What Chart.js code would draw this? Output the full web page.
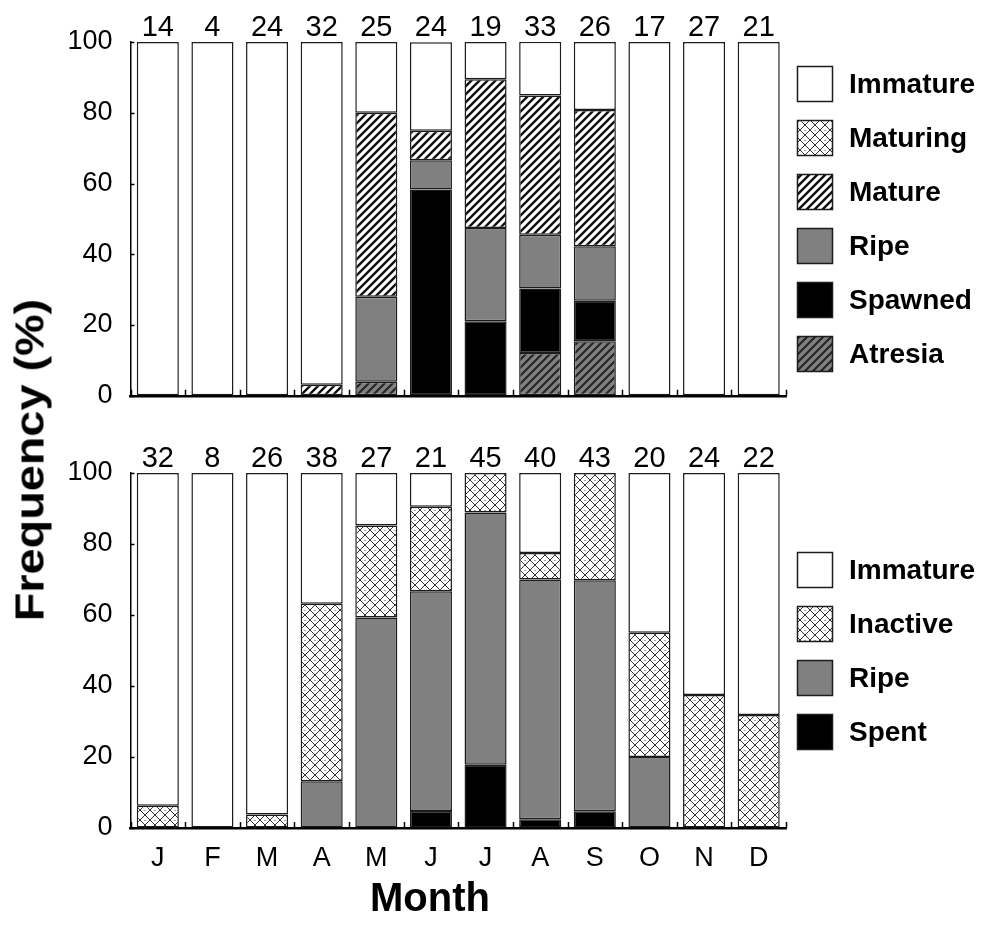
<!DOCTYPE html>
<html>
<head>
<meta charset="utf-8">
<script src="https://cdn.jsdelivr.net/npm/chart.js@4.4.1/dist/chart.umd.min.js"></script>
<style>
  html, body { margin: 0; padding: 0; background: #fff; }
  #page { position: relative; width: 998px; height: 936px; overflow: hidden; font-family: "Liberation Sans", Arial, sans-serif; }
  canvas { position: absolute; left: 0; }
  #topChart { top: 0; }
  #bottomChart { top: 430px; }
  .title { position: absolute; font-weight: bold; color: #000; white-space: nowrap; }
  #yTitle { left: 30px; top: 460px; font-size: 40px; transform: translate(-50%, -50%) rotate(-90deg) scaleX(1.17); }
  #xTitle { left: 430px; top: 897px; font-size: 40px; transform: translate(-50%, -50%); }
</style>
</head>
<body>
<div id="page">
  <canvas id="topChart" width="998" height="430"></canvas>
  <canvas id="bottomChart" width="998" height="506"></canvas>
  <div class="title" id="yTitle">Frequency (%)</div>
  <div class="title" id="xTitle">Month</div>
</div>
<script>
// ── Data ─────────────────────────────────────────────────────────────
const MONTHS = ['J', 'F', 'M', 'A', 'M', 'J', 'J', 'A', 'S', 'O', 'N', 'D'];
const Y_TICKS = [0, 20, 40, 60, 80, 100];

// upper panel: sample sizes and stage frequencies (%)
const TOP_N        = [14, 4, 24, 32, 25, 24, 19, 33, 26, 17, 27, 21];
const TOP_ATRESIA  = [0, 0, 0, 0, 4, 0, 0, 12.1, 15.4, 0, 0, 0];
const TOP_SPAWNED  = [0, 0, 0, 0, 0, 58.3, 21.1, 18.2, 11.5, 0, 0, 0];
const TOP_RIPE     = [0, 0, 0, 0, 24, 8.3, 26.3, 15.2, 15.4, 0, 0, 0];
const TOP_MATURE   = [0, 0, 0, 3.1, 52, 8.3, 42.1, 39.4, 38.5, 0, 0, 0];
const TOP_MATURING = [0, 0, 0, 0, 0, 0, 0, 0, 0, 0, 0, 0];
const TOP_IMMATURE = [100, 100, 100, 96.9, 20, 25, 10.5, 15.2, 19.2, 100, 100, 100];

// lower panel
const BOT_N        = [32, 8, 26, 38, 27, 21, 45, 40, 43, 20, 24, 22];
const BOT_SPENT    = [0, 0, 0, 0, 0, 4.8, 17.8, 2.5, 4.7, 0, 0, 0];
const BOT_RIPE     = [0, 0, 0, 13.2, 59.3, 61.9, 71.1, 67.5, 65.1, 20, 0, 0];
const BOT_INACTIVE = [6.3, 0, 3.8, 50, 25.9, 23.8, 11.1, 7.5, 30.2, 35, 37.5, 31.8];
const BOT_IMMATURE = [93.7, 100, 96.2, 36.8, 14.8, 9.5, 0, 22.5, 0, 45, 62.5, 68.2];

// ── Fills ────────────────────────────────────────────────────────────
const FONT = '"Liberation Sans", Arial, sans-serif';
const EDGE = '#1c1c1c';

function tile(size, paint) {
    const c = document.createElement('canvas');
    c.width = c.height = size;
    paint(c.getContext('2d'), size);
    return c.getContext('2d').createPattern(c, 'repeat');
}

function stripes(bg, fg, lw, size) {
    return tile(size, (g, s) => {
        g.fillStyle = bg;
        g.fillRect(0, 0, s, s);
        g.strokeStyle = fg;
        g.lineWidth = lw;
        g.beginPath();
        for (const o of [-s, 0, s]) {
            g.moveTo(o - 1, s + 1);
            g.lineTo(o + s + 1, -1);
        }
        g.stroke();
    });
}

const crossHatch = tile(10, (g, s) => {
    g.fillStyle = '#fff';
    g.fillRect(0, 0, s, s);
    g.strokeStyle = '#333';
    g.lineWidth = 1;
    g.beginPath();
    g.moveTo(0, 0); g.lineTo(s, s);
    g.moveTo(0, s); g.lineTo(s, 0);
    g.stroke();
    g.fillStyle = '#444';
    g.fillRect(s / 2 - 0.5, 0, 1, 1);
});

const FILL = {
    white: '#ffffff',
    cross: crossHatch,
    mature: stripes('#ffffff', '#111', 2.4, 8),
    gray: '#808080',
    black: '#000000',
    atresia: stripes('#808080', '#222', 2, 8)
};

function series(label, data, fill) {
    return {
        label, data,
        backgroundColor: fill,
        borderColor: EDGE,
        borderWidth: 1.5,
        borderSkipped: false,
        barPercentage: 0.77,
        categoryPercentage: 1
    };
}

// ── Plugins ──────────────────────────────────────────────────────────
// sample size printed above every bar
const countsPlugin = {
    id: 'counts',
    afterDatasetsDraw(chart, args, opts) {
        const { ctx, chartArea, scales: { x } } = chart;
        ctx.save();
        ctx.font = `29px ${FONT}`;
        ctx.fillStyle = '#000';
        ctx.textAlign = 'center';
        ctx.textBaseline = 'alphabetic';
        opts.values.forEach((n, i) => ctx.fillText(String(n), x.getPixelForValue(i), chartArea.top - 6));
        ctx.restore();
    }
};

// short tick marks pointing into the plot
const innerTicks = {
    id: 'innerTicks',
    afterDraw(chart) {
        const { ctx, chartArea, scales: { x, y } } = chart;
        ctx.save();
        ctx.strokeStyle = '#000';
        ctx.lineWidth = 1.5;
        ctx.beginPath();
        y.ticks.forEach(t => {
            const py = Math.round(y.getPixelForValue(t.value)) + 0.5;
            ctx.moveTo(chartArea.left, py);
            ctx.lineTo(chartArea.left + 4, py);
        });
        for (let i = 0; i <= MONTHS.length; i++) {
            const px = Math.round(x.getPixelForValue(i - 0.5)) + 0.5;
            ctx.moveTo(px, chartArea.bottom);
            ctx.lineTo(px, chartArea.bottom - 6);
        }
        ctx.stroke();
        ctx.restore();
    }
};

// stage key on the right, top stage first
const stageLegend = {
    id: 'stageLegend',
    afterDraw(chart, args, opts) {
        const { ctx } = chart;
        const sets = chart.data.datasets.slice().reverse();
        ctx.save();
        ctx.font = `bold 28px ${FONT}`;
        ctx.textBaseline = 'middle';
        sets.forEach((ds, i) => {
            const top = opts.top + i * 54;
            ctx.fillStyle = ds.backgroundColor;
            ctx.fillRect(797, top, 36, 36);
            ctx.strokeStyle = EDGE;
            ctx.lineWidth = 1.5;
            ctx.strokeRect(797.5, top + 0.5, 35, 35);
            ctx.fillStyle = '#000';
            ctx.fillText(ds.label, 849, top + 19);
        });
        ctx.restore();
    }
};

// ── Chart factory ────────────────────────────────────────────────────
function buildChart(id, datasets, counts, legendTop, opt) {
    return new Chart(document.getElementById(id), {
        type: 'bar',
        data: { labels: MONTHS, datasets },
        plugins: [countsPlugin, innerTicks, stageLegend],
        options: {
            responsive: false,
            animation: false,
            layout: { padding: { left: 0, top: opt.top, right: 212, bottom: 0 } },
            scales: {
                x: {
                    stacked: true,
                    grid: { display: true, drawOnChartArea: false, drawTicks: false },
                    border: { color: '#000', width: 2.5 },
                    ticks: {
                        display: opt.showMonths,
                        padding: 14,
                        color: '#000',
                        font: { family: FONT, size: 27 }
                    },
                    afterFit: s => { s.height = opt.xHeight; }
                },
                y: {
                    stacked: true,
                    min: 0,
                    max: 100,
                    afterBuildTicks: s => { s.ticks = Y_TICKS.map(v => ({ value: v })); },
                    grid: { display: true, drawOnChartArea: false, drawTicks: false },
                    border: { color: '#000', width: 1.5 },
                    ticks: {
                        padding: 18,
                        color: '#000',
                        font: { family: FONT, size: 27 }
                    },
                    afterFit: s => { s.width = 130.5; }
                }
            },
            plugins: {
                legend: { display: false },
                tooltip: { enabled: false },
                counts: { values: counts },
                stageLegend: { top: legendTop }
            }
        }
    });
}

buildChart('topChart', [
    series('Atresia', TOP_ATRESIA, FILL.atresia),
    series('Spawned', TOP_SPAWNED, FILL.black),
    series('Ripe', TOP_RIPE, FILL.gray),
    series('Mature', TOP_MATURE, FILL.mature),
    series('Maturing', TOP_MATURING, FILL.cross),
    series('Immature', TOP_IMMATURE, FILL.white)
], TOP_N, 66, { top: 42, xHeight: 34, showMonths: false });

buildChart('bottomChart', [
    series('Spent', BOT_SPENT, FILL.black),
    series('Ripe', BOT_RIPE, FILL.gray),
    series('Inactive', BOT_INACTIVE, FILL.cross),
    series('Immature', BOT_IMMATURE, FILL.white)
], BOT_N, 122, { top: 43, xHeight: 108, showMonths: true });
</script>
</body>
</html>
